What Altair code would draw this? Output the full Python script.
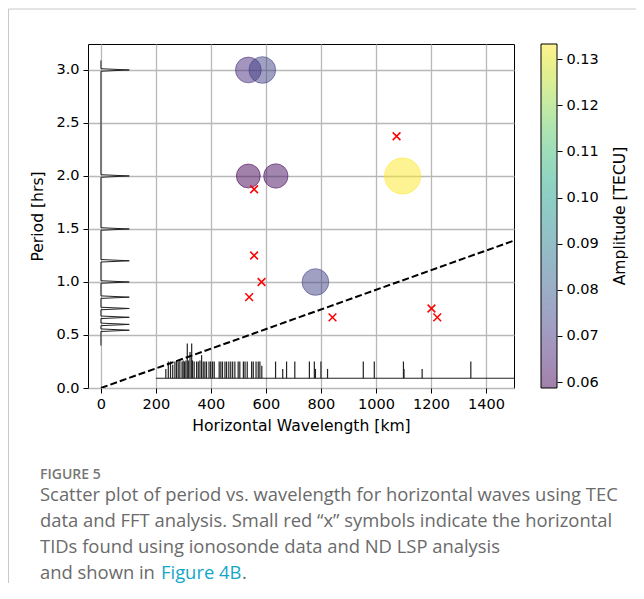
import altair as alt
import numpy as np
import pandas as pd

# ---------------- data ----------------
# TEC / FFT waves (circles): wavelength [km], period [hrs], amplitude [TECU]
circ_wavelength = [536, 587, 536, 636, 780, 1097]
circ_period = [3.0, 3.0, 2.0, 2.0, 1.0, 2.0]
circ_amp = [0.068, 0.073, 0.0587, 0.061, 0.073, 0.1333]

# ionosonde / ND LSP TIDs (red x)
tid_wavelength = [557, 1075, 557, 584, 539, 842, 1202, 1223]
tid_period = [1.875, 2.375, 1.25, 1.0, 0.857, 0.667, 0.75, 0.667]

# reference phase-speed line (dashed)
ref_wavelength = [0, 1550]
ref_period = [0, 1.435]

# period spectrum drawn along the left side
per_spec_periods = [3.0, 2.0, 1.5, 1.2, 1.0, 0.857, 0.75, 0.667, 0.6, 0.545]
per_spec_height = 103
per_spec_ends = [3.09, 0.40]
per_spec_halfwidth = 0.012

# wavelength spectrum drawn along the bottom
wl_spec_lambda = [236, 245, 253, 261, 269, 275, 281, 287, 295, 299,
                  304, 309, 314, 319, 324, 330, 333, 339, 348, 354,
                  360, 366, 372, 378, 384, 393, 399, 406, 412, 430,
                  436, 442, 451, 457, 465, 472, 479, 487, 499, 505,
                  518, 524, 532, 548, 554, 564, 572, 578, 585, 635,
                  661, 675, 705, 758, 776, 780, 800, 824, 954, 994,
                  1100, 1102, 1168, 1345]
wl_spec_top = [0.18, 0.25, 0.25, 0.22, 0.25, 0.26, 0.25, 0.26, 0.25, 0.26,
               0.25, 0.26, 0.42, 0.26, 0.34, 0.42, 0.26, 0.25, 0.25, 0.25,
               0.26, 0.31, 0.25, 0.25, 0.25, 0.25, 0.25, 0.25, 0.25, 0.25,
               0.25, 0.25, 0.25, 0.25, 0.25, 0.25, 0.25, 0.25, 0.25, 0.25,
               0.25, 0.25, 0.25, 0.25, 0.25, 0.25, 0.25, 0.25, 0.21, 0.25,
               0.18, 0.25, 0.25, 0.25, 0.25, 0.18, 0.25, 0.18, 0.25, 0.25,
               0.25, 0.18, 0.18, 0.25]
wl_spec_base = 0.092
wl_spec_span = [200, 1550]

x_ticks = [0, 200, 400, 600, 800, 1000, 1200, 1400]
y_ticks = [0.0, 0.5, 1.0, 1.5, 2.0, 2.5, 3.0]
cb_ticks = [0.06, 0.07, 0.08, 0.09, 0.10, 0.11, 0.12, 0.13]
x_domain = [-47, 1502]
y_domain = [0, 3.245]
amp_domain = [0.0587, 0.1333]

caption_head = "FIGURE 5"
caption_lines = [
    "Scatter plot of period vs. wavelength for horizontal waves using TEC",
    "data and FFT analysis. Small red \u201cx\u201d symbols indicate the horizontal",
    "TIDs found using ionosonde data and ND LSP analysis",
    "and shown in ",
]
caption_link = "Figure 4B"

# ---------------- layout ----------------
W, H = 426, 344
PAD = {"left": 80, "top": 36, "right": 122, "bottom": 195}
CB_X0, CB_X1 = 453, 469

FONT = "DejaVu Sans"
CAP_FONT = "Open Sans"
CAP_SIZE = 18.4

xsc = alt.Scale(domain=x_domain, nice=False, zero=False)
ysc = alt.Scale(domain=y_domain, nice=False, zero=False)
csc = alt.Scale(scheme="viridis", domain=amp_domain)
cbsc = alt.Scale(domain=amp_domain, nice=False, zero=False)

xax = alt.Axis(values=x_ticks, title="Horizontal Wavelength [km]", format="d",
               labelFlush=False, titlePadding=8, labelPadding=4)
yax = alt.Axis(values=y_ticks, title="Period [hrs]", format=".1f",
               labelFlush=False, titlePadding=10, labelPadding=4)


def X(f):
    return alt.X(f, type="quantitative", scale=xsc, axis=xax)


def Y(f):
    return alt.Y(f, type="quantitative", scale=ysc, axis=yax)


# data frames
circ_df = pd.DataFrame({"x": circ_wavelength, "y": circ_period, "amp": circ_amp})
tid_df = pd.DataFrame({"x": tid_wavelength, "y": tid_period})
ref_df = pd.DataFrame({"x": ref_wavelength, "y": ref_period})

rows = [(0, per_spec_ends[0])]
for p in per_spec_periods:
    rows += [(0, p + per_spec_halfwidth), (per_spec_height, p), (0, p - per_spec_halfwidth)]
rows.append((0, per_spec_ends[1]))
per_df = pd.DataFrame(rows, columns=["x", "y"])
per_df["o"] = range(len(per_df))

wl_df = pd.DataFrame({"x": wl_spec_lambda, "top": wl_spec_top, "base": wl_spec_base})
wl_base_df = pd.DataFrame({"x0": [wl_spec_span[0]], "x1": [wl_spec_span[1]], "y": [wl_spec_base]})

# ---------------- layers ----------------
per_line = alt.Chart(per_df).mark_line(color="#222", strokeWidth=1, clip=True).encode(
    x=X("x"), y=Y("y"), order="o:Q")

wl_base = alt.Chart(wl_base_df).mark_rule(color="#222", strokeWidth=1, clip=True).encode(
    x=X("x0"), x2="x1", y=Y("y"))

wl_rules = alt.Chart(wl_df).mark_rule(color="#222", strokeWidth=1.2, clip=True).encode(
    x=X("x"), y=Y("base"), y2="top")

ref_line = alt.Chart(ref_df).mark_line(color="black", strokeWidth=2, strokeDash=[7, 3], clip=True).encode(
    x=X("x"), y=Y("y"))

circles = alt.Chart(circ_df).mark_circle(fillOpacity=0.5, strokeOpacity=0.55, strokeWidth=1).encode(
    x=X("x"), y=Y("y"),
    fill=alt.Fill("amp:Q", scale=csc, legend=None),
    stroke=alt.Stroke("amp:Q", scale=csc, legend=None),
    size=alt.Size("amp:Q", scale=alt.Scale(domain=[0, amp_domain[1]], range=[0, 1300]), legend=None),
)

tids = alt.Chart(tid_df).mark_point(shape="M-1,-1L1,1M-1,1L1,-1", filled=False, color="red",
                                    strokeWidth=1.5, size=60, opacity=1).encode(
    x=X("x"), y=Y("y"))


def txt(text, x, y, **kw):
    return alt.Chart(alt.Data(values=[{}])).mark_text(**kw).encode(
        x=alt.value(x), y=alt.value(y), text=alt.value(text))


cap_x = -48
captions = [txt(caption_head, cap_x, 435, align="left", baseline="alphabetic", font=CAP_FONT,
                fontSize=14, fontWeight=600, color="#777")]
for i, line in enumerate(caption_lines):
    captions.append(txt(line, cap_x, 457 + 26 * i, align="left", baseline="alphabetic",
                        font=CAP_FONT, fontSize=CAP_SIZE, color="#6a6a6a"))
captions.append(txt(caption_link, 73, 535, align="left", baseline="alphabetic",
                    font=CAP_FONT, fontSize=CAP_SIZE, color="#14a6c8"))
captions.append(txt(".", 154, 535, align="left", baseline="alphabetic",
                    font=CAP_FONT, fontSize=CAP_SIZE, color="#6a6a6a"))

border_left = alt.Chart(alt.Data(values=[{}])).mark_rule(color="#c8c8c8", strokeWidth=1).encode(
    x=alt.value(-79.5), y=alt.value(-35), y2=alt.value(560))
border_top = alt.Chart(alt.Data(values=[{}])).mark_rule(color="#c8c8c8", strokeWidth=1).encode(
    x=alt.value(-79.5), x2=alt.value(560), y=alt.value(-35))

main = alt.layer(per_line, wl_base, wl_rules, ref_line, circles, tids,
                 border_left, border_top, *captions)

# colorbar
n = 172
edges = np.linspace(amp_domain[0], amp_domain[1], n + 1)
cb_df = pd.DataFrame({"lo": edges[:-1], "hi": edges[1:], "v": (edges[:-1] + edges[1:]) / 2})
cbax = alt.Axis(orient="right", offset=CB_X1 - W, values=cb_ticks, format=".2f", grid=False,
                domain=False, tickSize=5, labelPadding=4, title=None, labelFlush=False)
cbar = alt.Chart(cb_df).mark_rect(opacity=0.5, strokeWidth=0).encode(
    x=alt.value(CB_X0), x2=alt.value(CB_X1),
    y=alt.Y("lo:Q", scale=cbsc, axis=cbax), y2="hi:Q",
    fill=alt.Fill("v:Q", scale=csc, legend=None))
cb_outline = alt.Chart(alt.Data(values=[{}])).mark_rect(filled=False, stroke="black", strokeWidth=1).encode(
    x=alt.value(CB_X0), x2=alt.value(CB_X1), y=alt.value(0), y2=alt.value(H))
cb_title = txt("Amplitude [TECU]", 532, H / 2, angle=270, align="center", baseline="middle",
               font=FONT, fontSize=15.6, color="black")

chart = alt.layer(main, cbar, cb_outline, cb_title).resolve_scale(y="independent").properties(
    width=W, height=H,
    autosize=alt.AutoSizeParams(type="none"),
    padding=PAD,
).configure_axis(
    labelFont=FONT, titleFont=FONT, labelFontSize=14.5, titleFontSize=15.6,
    labelColor="black", titleColor="black", titleFontWeight="normal",
    tickColor="black", tickSize=5, domain=False,
    gridColor="#b8b8b8", gridWidth=1.3,
).configure_view(stroke="black", strokeWidth=1)

chart.save("out.html", embed_options={"renderer": "svg", "actions": False})
